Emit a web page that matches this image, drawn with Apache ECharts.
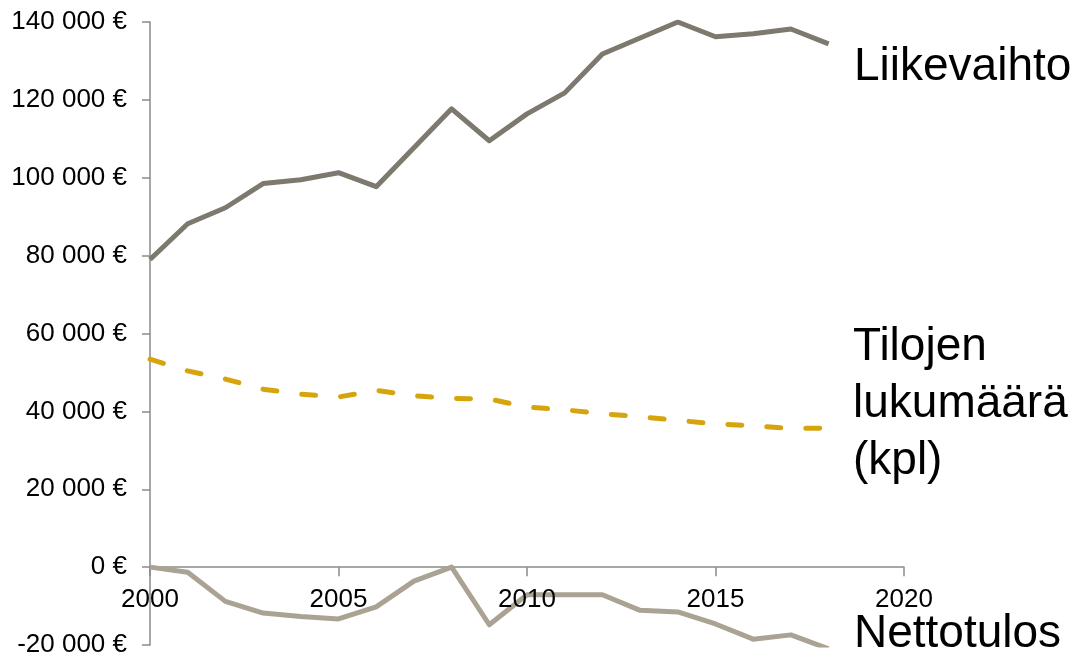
<!DOCTYPE html>
<html>
<head>
<meta charset="utf-8">
<script src="https://cdn.jsdelivr.net/npm/echarts@6/dist/echarts.min.js"></script>
<style>
html,body{margin:0;padding:0;background:#fff;}
#chart{width:1079px;height:658px;}
</style>
</head>
<body>
<div id="chart"></div>
<script>
const years = [2000,2001,2002,2003,2004,2005,2006,2007,2008,2009,2010,2011,2012,2013,2014,2015,2016,2017,2018];
const liikevaihto = [79000,88200,92300,98500,99500,101300,97700,107700,117700,109500,116400,121800,131800,135900,140000,136200,137000,138200,134400];
const tilojenLukumaara = [53400,50400,48300,45700,44400,43700,45400,44000,43300,43200,41100,40400,39400,38600,37700,36800,36300,35600,35700];
const nettotulos = [0,-1300,-8800,-11800,-12700,-13300,-10200,-3600,0,-14800,-7100,-7100,-7100,-11100,-11500,-14600,-18500,-17400,-21000];
const seriesNames = ['Liikevaihto', 'Tilojen\nlukumäärä\n(kpl)', 'Nettotulos'];
const yTicks = {min: -20000, max: 140000, interval: 20000};
const xTicks = {min: 2000, max: 2020, interval: 5};

function pairs(vals){ return years.map((y,i)=>[y, vals[i]]); }
function fmtEuro(v){ return String(v).replace(/\B(?=(\d{3})+(?!\d))/g, ' ') + ' €'; }

const chart = echarts.init(document.getElementById('chart'), null, {renderer:'canvas'});
const FONT = '"Liberation Sans", Arial, sans-serif';
const axisColor = '#8a8a8a';
const gridBox = {left: 150, right: 175, top: 22, bottom: 13};
const plotH = 658 - gridBox.top - gridBox.bottom;
// distance from grid bottom to the zero line (axis crosses at 0)
const zeroOffset = plotH * (0 - yTicks.min) / (yTicks.max - yTicks.min);

chart.setOption({
  animation: false,
  backgroundColor: '#ffffff',
  grid: Object.assign({containLabel: false, outerBoundsMode: 'none'}, gridBox),
  xAxis: [
    {
      type: 'value', min: xTicks.min, max: xTicks.max, interval: xTicks.interval,
      axisLine: {show: true, onZero: true, lineStyle: {color: axisColor, width: 1.5}},
      axisTick: {show: true, inside: false, length: 9, lineStyle: {color: axisColor, width: 1.5}},
      axisLabel: {show: false},
      splitLine: {show: false}
    },
    {
      type: 'value', min: xTicks.min, max: xTicks.max, interval: xTicks.interval,
      position: 'bottom', offset: -zeroOffset, z: 5,
      axisLine: {show: false, onZero: false},
      axisTick: {show: false},
      axisLabel: {color: '#000', fontFamily: FONT, fontSize: 26, margin: 20, hideOverlap: false, formatter: v => String(v)},
      splitLine: {show: false}
    }
  ],
  yAxis: {
    type: 'value', min: yTicks.min, max: yTicks.max, interval: yTicks.interval,
    axisLine: {show: true, onZero: false, lineStyle: {color: axisColor, width: 1.5}},
    axisTick: {show: true, length: 8, lineStyle: {color: axisColor, width: 1.5}},
    axisLabel: {color: '#000', fontFamily: FONT, fontSize: 26, margin: 23, formatter: fmtEuro},
    splitLine: {show: false}
  },
  series: [
    {
      name: seriesNames[0], type: 'line', data: pairs(liikevaihto), showSymbol: false, symbol: 'none',
      clip: true, z: 3,
      lineStyle: {color: '#7e796e', width: 5, join: 'round'}
    },
    {
      name: seriesNames[1], type: 'line', data: pairs(tilojenLukumaara), showSymbol: false, symbol: 'none',
      clip: true, z: 3,
      lineStyle: {color: '#d6a50d', width: 5, type: [14, 25], cap: 'round', join: 'round'}
    },
    {
      name: seriesNames[2], type: 'line', data: pairs(nettotulos), showSymbol: false, symbol: 'none',
      clip: true, z: 2,
      lineStyle: {color: '#aaa293', width: 5, join: 'round'}
    }
  ],
  graphic: [
    {type: 'text', left: 854, top: 44, style: {text: seriesNames[0], font: '46px ' + FONT, fill: '#000'}},
    {type: 'text', left: 853, top: 319, style: {text: seriesNames[1], font: '46px ' + FONT, lineHeight: 57, fill: '#000'}},
    {type: 'text', left: 854, top: 611, style: {text: seriesNames[2], font: '46px ' + FONT, fill: '#000'}}
  ]
});
</script>
</body>
</html>
